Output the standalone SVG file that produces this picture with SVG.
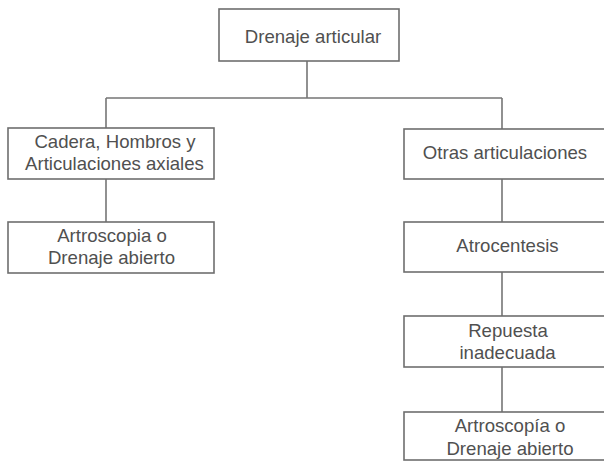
<svg xmlns="http://www.w3.org/2000/svg" width="604" height="462" viewBox="0 0 604 462">
<style>
.box{fill:#fff;stroke:#6e6e6e;stroke-width:1.6}
.ln{stroke:#767676;stroke-width:1.6;fill:none}
text{font-family:"Liberation Sans",Arial,sans-serif;font-size:18.6px;fill:#505050;text-anchor:middle}
</style>
<rect width="604" height="462" fill="#fff"/>
<g id="connectors">
<path class="ln" d="M307,61V98M106,98H502M106,98V128M106,179V222M502,98V129M502,179V222M502,272V316M502,367V412"/>
</g>
<g id="n-root"><rect class="box" x="219" y="9" width="180" height="52"/><text x="313" y="43">Drenaje articular</text></g>
<g id="n-cadera"><rect class="box" x="8" y="128" width="206" height="51"/><text x="115" y="148">Cadera, Hombros y</text><text x="114.5" y="170">Articulaciones axiales</text></g>
<g id="n-artro1"><rect class="box" x="8" y="222" width="206" height="51"/><text x="112" y="242">Artroscopia o</text><text x="111.5" y="264">Drenaje abierto</text></g>
<g id="n-otras"><rect class="box" x="404" y="129" width="212" height="50"/><text x="505" y="159">Otras articulaciones</text></g>
<g id="n-atro"><rect class="box" x="404" y="222" width="212" height="50"/><text x="507.5" y="252">Atrocentesis</text></g>
<g id="n-repuesta"><rect class="box" x="404" y="316" width="212" height="51"/><text x="508" y="337">Repuesta</text><text x="507.5" y="359">inadecuada</text></g>
<g id="n-artro2"><rect class="box" x="404" y="412" width="212" height="48"/><text x="510" y="432">Artroscopía o</text><text x="510" y="455">Drenaje abierto</text></g>
</svg>
